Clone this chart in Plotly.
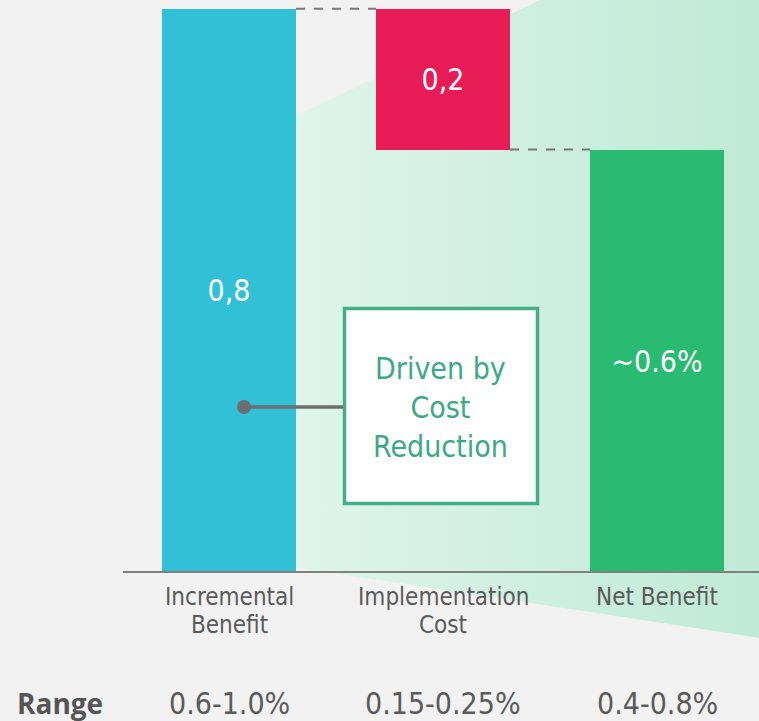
import plotly.graph_objects as go

# ---- data ----
categories = ["Incremental<br>Benefit", "Implementation<br>Cost", "Net Benefit"]
bar_bases = [0.0, 0.6, 0.0]
bar_values = [0.8, 0.2, 0.6]
bar_labels = ["0,8", "0,2", "~0.6%"]
bar_colors = ["#31c0d6", "#e71c57", "#2abb72"]
range_labels = ["0.6-1.0%", "0.15-0.25%", "0.4-0.8%"]
callout_text = "Driven by<br>Cost<br>Reduction"

# ---- geometry helpers (figure 759x721, margin 0) ----
W, H = 759, 721
X0_PX, DX_PX = 229.0, 214.0      # px of category 0, px per category
Y0_PX, DY_PX = 572.0, 704.0      # px of baseline, px per unit

def xd(px):
    return (px - X0_PX) / DX_PX

def yd(py):
    return (Y0_PX - py) / DY_PX

x_pos = list(range(len(categories)))
bar_w = 134.0 / DX_PX
label_font = "DejaVu Sans Condensed, DejaVu Sans, sans-serif"

fig = go.Figure()

# background green wedge (gradient) on the base axes (drawn first / below)
wedge_x = [xd(162), xd(800), xd(800), xd(162), xd(162)]
wedge_y = [yd(179), yd(-123), yd(644), yd(547), yd(179)]
fig.add_trace(go.Scatter(
    x=wedge_x, y=wedge_y, mode="lines", fill="toself",
    line=dict(width=0),
    fillgradient=dict(type="horizontal",
                      colorscale=[[0, "#e6f7ee"], [0.22, "#dff5ea"], [1, "#bce9d4"]]),
    hoverinfo="skip", showlegend=False,
    xaxis="x", yaxis="y",
))

# bars on overlaying axes (drawn above the wedge)
fig.add_trace(go.Bar(
    x=x_pos, y=bar_values, base=bar_bases, width=bar_w,
    marker=dict(color=bar_colors, line=dict(width=0)),
    text=bar_labels, textposition="inside", insidetextanchor="middle",
    textangle=0,
    textfont=dict(family=label_font, size=30, color="white"),
    hoverinfo="skip", showlegend=False,
    xaxis="x2", yaxis="y2",
))

# dashed connectors
conn_col = "#777777"
fig.add_shape(type="line", xref="x2", yref="y2",
              x0=x_pos[0] + bar_w / 2, x1=x_pos[1] - bar_w / 2,
              y0=bar_bases[0] + bar_values[0], y1=bar_bases[1] + bar_values[1],
              line=dict(color=conn_col, width=2, dash="dash"))
fig.add_shape(type="line", xref="x2", yref="y2",
              x0=x_pos[1] + bar_w / 2, x1=x_pos[2] - bar_w / 2,
              y0=bar_bases[1], y1=bar_values[2],
              line=dict(color=conn_col, width=2, dash="dash"))

# baseline
fig.add_shape(type="line", xref="x2", yref="y2", x0=xd(123), x1=xd(W + 5), y0=0, y1=0,
              line=dict(color="#808080", width=2))

# callout: connector, dot and box
dot_x, dot_y = xd(244), yd(407)
fig.add_shape(type="line", xref="x2", yref="y2", x0=dot_x, x1=xd(343), y0=dot_y, y1=dot_y,
              line=dict(color="#6d6e71", width=3.5))
fig.add_shape(type="circle", xref="x2", yref="y2",
              xsizemode="pixel", ysizemode="pixel", xanchor=dot_x, yanchor=dot_y,
              x0=-7, x1=7, y0=-7, y1=7,
              fillcolor="#6d6e71", line=dict(width=0))
fig.add_shape(type="rect", xref="x2", yref="y2",
              x0=xd(344.5), x1=xd(537.5), y0=yd(308.5), y1=yd(503.5),
              fillcolor="white", line=dict(color="#45ad8a", width=3.5))
fig.add_annotation(xref="x2", yref="y2", x=xd(440.5), y=yd(407), text=callout_text,
                   showarrow=False, xanchor="center", yanchor="middle", align="center",
                   font=dict(family=label_font, size=30, color="#3aa986"))

# category labels (one annotation per line for tighter spacing) and ranges
for i, cat in enumerate(categories):
    for j, line in enumerate(cat.split("<br>")):
        fig.add_annotation(xref="x2", yref="y2", x=x_pos[i], y=yd(597 + 27.5 * j),
                           text=line, showarrow=False, xanchor="center", yanchor="middle",
                           font=dict(family=label_font, size=24, color="#5a5a5a"))
    fig.add_annotation(xref="x2", yref="y2", x=x_pos[i], y=yd(703), text=range_labels[i],
                       showarrow=False, xanchor="center", yanchor="middle",
                       font=dict(family=label_font, size=30, color="#5a5a5a"))

fig.add_annotation(xref="x2", yref="y2", x=xd(60), y=yd(703), text="<b>Range</b>",
                   showarrow=False, xanchor="center", yanchor="middle",
                   font=dict(family="Open Sans, sans-serif", size=28, color="#555555"))

xr = [xd(0), xd(W)]
yr = [yd(H), yd(0)]
fig.update_layout(
    width=W, height=H,
    margin=dict(l=0, r=0, t=0, b=0),
    paper_bgcolor="#f2f2f2", plot_bgcolor="rgba(0,0,0,0)",
    xaxis=dict(range=xr, visible=False, fixedrange=True),
    yaxis=dict(range=yr, visible=False, fixedrange=True),
    xaxis2=dict(range=xr, visible=False, fixedrange=True, overlaying="x"),
    yaxis2=dict(range=yr, visible=False, fixedrange=True, overlaying="y"),
    bargap=0, showlegend=False,
)

fig.write_html("out.html")
